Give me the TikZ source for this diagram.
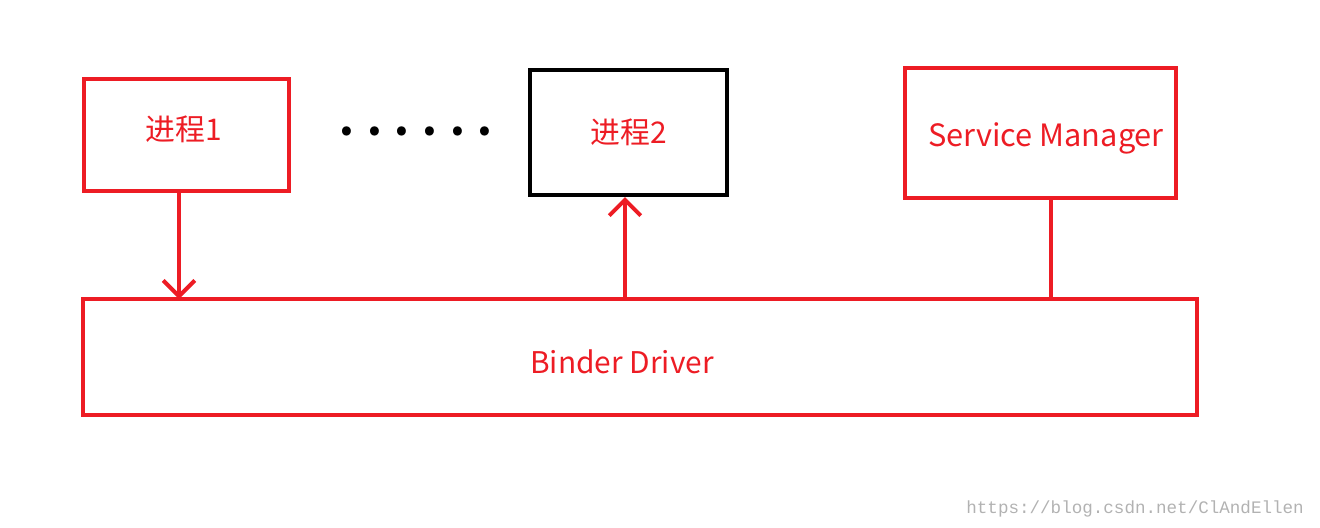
\documentclass[tikz,border=0pt]{standalone}
\usepackage{fontspec}
\setmainfont{Noto Sans CJK SC}
\setmonofont{Liberation Mono}
\usetikzlibrary{arrows.meta}
\definecolor{pred}{RGB}{237,28,36}
\tikzset{
  box/.style={draw=pred, line width=2.3pt, inner sep=0pt, text=pred, font=\fontsize{17}{20}\selectfont},
  link/.style={draw=pred, line width=2.3pt},
  vtip/.style={-{Straight Barb[length=9pt,width=18pt,line width=2.3pt]}},
}
\begin{document}
\begin{tikzpicture}[x=0.02cm, y=-0.02cm]
\useasboundingbox (0,0) rectangle (1320,528);

\node[box, minimum width=205*0.02cm, minimum height=112*0.02cm] (p1) at (186.5,135) {};
\node[text=pred, font=\fontsize{17}{20}\selectfont] (p1t) at (184,129) {进程1};
\node[box, draw=black, minimum width=197*0.02cm, minimum height=125*0.02cm] (p2) at (628.5,132.5) {进程2};
\node[box, minimum width=271*0.02cm, minimum height=130*0.02cm] (sm) at (1040.5,133) {};
\node[text=pred, font=\fontsize{17.5}{20}\selectfont] (smt) at (1046,138) {Service Manager};
\node[box, minimum width=1114*0.02cm, minimum height=116*0.02cm] (bd) at (640,357) {};
\node[text=pred, font=\fontsize{17}{20}\selectfont] (bdt) at (622,362) {Binder Driver};

\node[font=\fontsize{24}{24}\selectfont\bfseries] (dots) at (416,131) {. . . . . .};

% links
\coordinate (a1) at (179,191);
\coordinate (b1) at (179,299);
\draw[link, vtip] (a1) -- (b1);
\coordinate (a2) at (625,299);
\coordinate (b2) at (625,197);
\draw[link, vtip] (a2) -- (b2);
\coordinate (a3) at (1051,198);
\coordinate (b3) at (1051,299);
\draw[link] (a3) -- (b3);

\node[text=gray!60, font=\ttfamily\fontsize{10}{12}\selectfont, anchor=east] (wm) at (1310,509) {https://blog.csdn.net/ClAndEllen};
\end{tikzpicture}
\end{document}
